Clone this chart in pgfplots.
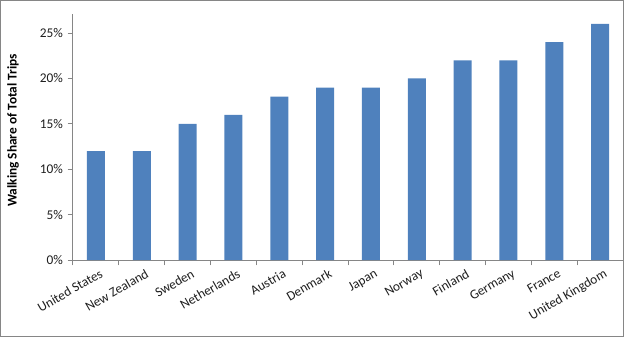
\documentclass[border=0pt]{standalone}
\usepackage{fontspec}
\setmainfont{Carlito}
\usepackage{pgfplots}
\pgfplotsset{compat=1.18}
\definecolor{barblue}{RGB}{79,129,189}
\definecolor{axgray}{RGB}{134,134,134}
\definecolor{txtgray}{RGB}{30,30,30}
\begin{document}
\begin{tikzpicture}
\useasboundingbox (0pt,0pt) rectangle (468pt,252.75pt);
\draw[axgray, line width=0.75pt] (0.375pt,0.375pt) rectangle (467.625pt,252.375pt);
\node[rotate=90, font=\fontsize{10}{12}\selectfont\bfseries] at (9.75pt,155pt) {Walking Share of Total Trips};
\begin{axis}[
  at={(54.75pt,57.75pt)}, anchor=south west,
  scale only axis, width=412.5pt, height=184.5pt,
  xmin=-0.5, xmax=11.5, ymin=0, ymax=27.1,
  axis lines*=left,
  axis line style={axgray, line width=0.75pt},
  ybar, bar width=13.5pt,
  xtick={0,...,11},
  xticklabels={United States,New Zealand,Sweden,Netherlands,Austria,Denmark,Japan,Norway,Finland,Germany,France,United Kingdom},
  major x tick style={draw=none},
  minor xtick={-0.5,0.5,...,11.5},
  minor x tick style={axgray, line width=0.75pt},
  minor tick length=4pt,
  x tick label style={rotate=30, anchor=north east, font=\fontsize{10}{12}\selectfont, text=txtgray, inner sep=1pt, xshift=2pt, yshift=-2pt},
  ytick={0,5,...,25},
  yticklabel={\pgfmathprintnumber{\tick}\%},
  /pgf/number format/assume math mode=true,
  y tick label style={font=\fontsize{10}{12}\selectfont, text=txtgray},
  major y tick style={axgray, line width=0.75pt},
  major tick length=4pt,
  tick align=outside,
  clip=false,
]
\addplot[fill=barblue, draw=none] coordinates {
(0,12) (1,12) (2,15) (3,16) (4,18) (5,19) (6,19) (7,20) (8,22) (9,22) (10,24) (11,26)
};
\end{axis}
\end{tikzpicture}
\end{document}
